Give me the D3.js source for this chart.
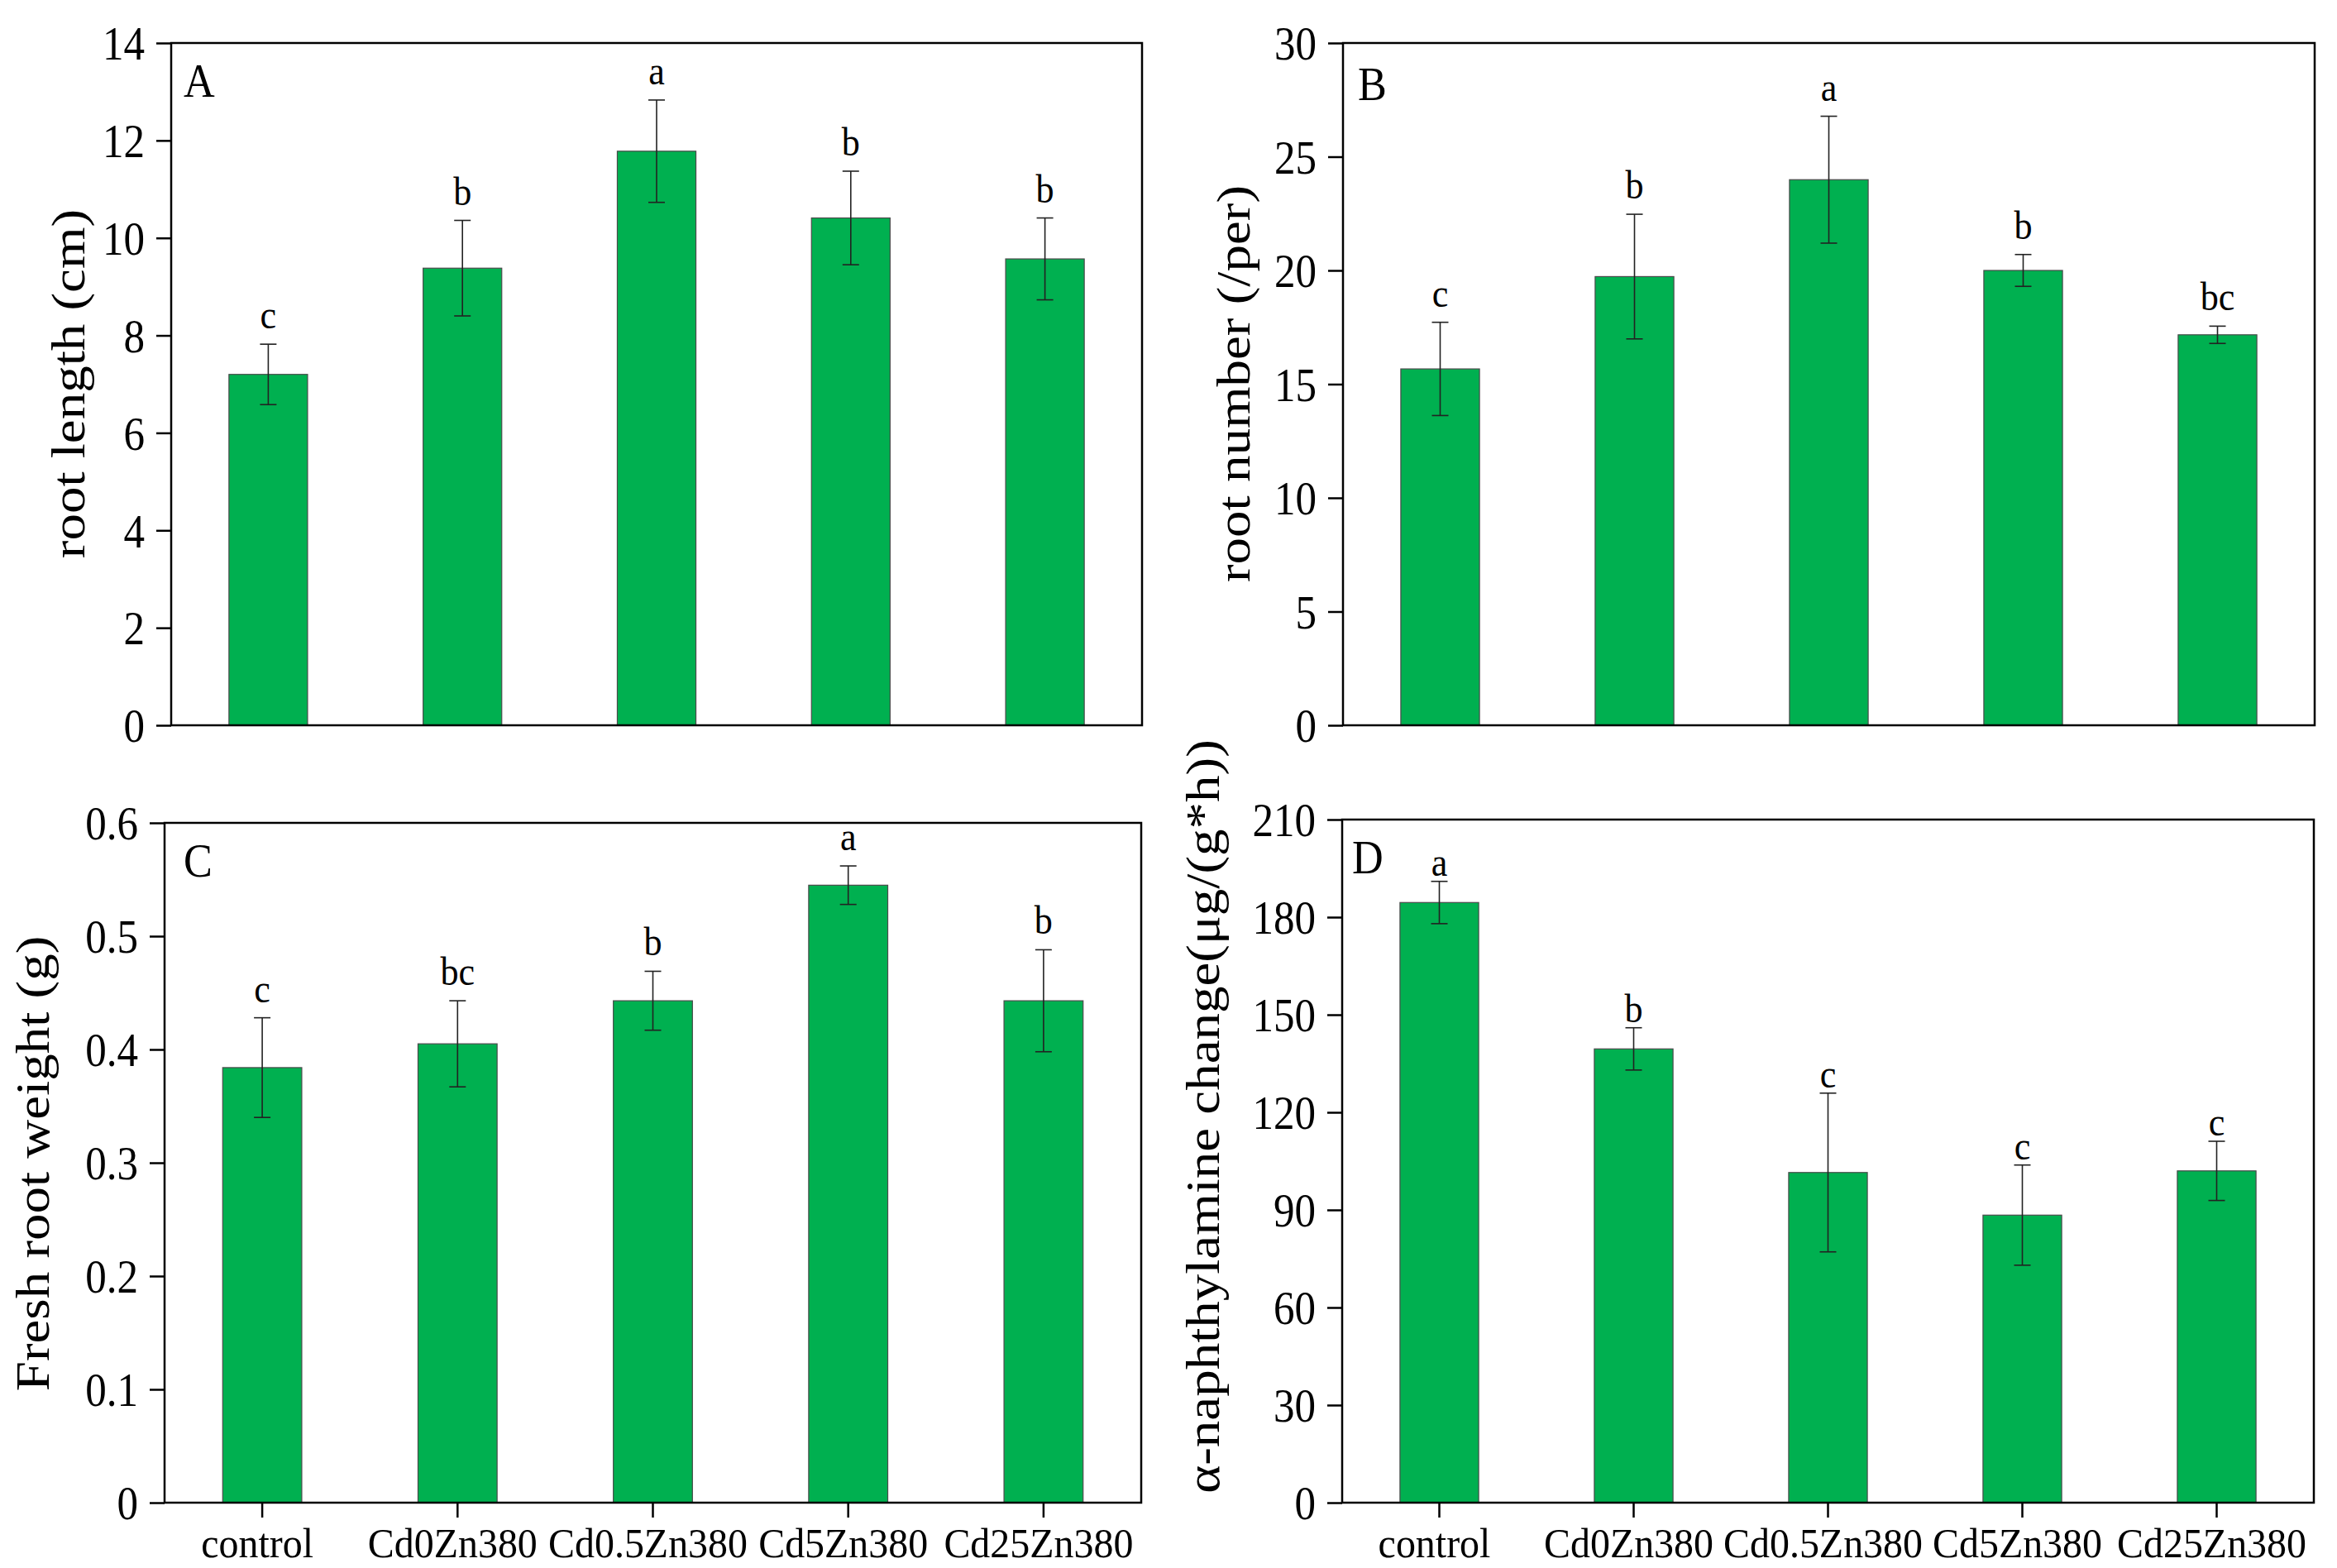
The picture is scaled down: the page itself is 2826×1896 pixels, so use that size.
<!DOCTYPE html>
<html>
<head>
<meta charset="utf-8">
<script src="https://cdn.jsdelivr.net/npm/d3@7"></script>
<style>
  body { margin: 0; background: #fff; }
  text { font-family: "Liberation Serif", "Times New Roman", serif; fill: #000; }
</style>
</head>
<body>
<svg></svg>
<script>
const size = {w: 2826, h: 1896};
const barColor = '#00b050';

// treatments (x axis)
const categories = ['control', 'Cd0Zn380', 'Cd0.5Zn380', 'Cd5Zn380', 'Cd25Zn380'];

// A - root length
const rootLength = [7.2, 9.38, 11.78, 10.41, 9.57];
const rootLengthErr = [0.62, 0.98, 1.05, 0.96, 0.84];
const rootLengthSig = ['c', 'b', 'a', 'b', 'b'];
const rootLengthTicks = [0, 2, 4, 6, 8, 10, 12, 14];

// B - root number
const rootNumber = [15.67, 19.73, 23.99, 20.0, 17.17];
const rootNumberErr = [2.05, 2.74, 2.79, 0.7, 0.38];
const rootNumberSig = ['c', 'b', 'a', 'b', 'bc'];
const rootNumberTicks = [0, 5, 10, 15, 20, 25, 30];

// C - fresh root weight
const freshWeight = [0.384, 0.405, 0.443, 0.545, 0.443];
const freshWeightErr = [0.044, 0.038, 0.026, 0.017, 0.045];
const freshWeightSig = ['c', 'bc', 'b', 'a', 'b'];
const freshWeightTicks = [0, 0.1, 0.2, 0.3, 0.4, 0.5, 0.6];

// D - alpha-naphthylamine
const naphthylamine = [184.5, 139.5, 101.5, 88.4, 102.0];
const naphthylamineErr = [6.5, 6.5, 24.4, 15.4, 9.1];
const naphthylamineSig = ['a', 'b', 'c', 'c', 'c'];
const naphthylamineTicks = [0, 30, 60, 90, 120, 150, 180, 210];

const svg = d3.select('svg')
    .attr('width', size.w)
    .attr('height', size.h);

const panels = [
    {letter: 'A', title: 'root length (cm)', values: rootLength, err: rootLengthErr, sig: rootLengthSig,
     ticks: rootLengthTicks, box: {l: 207, r: 1381, t: 52, b: 877}, titleX: 102, titleY: 464, letterPos: [222, 117], sigGap: 19, xLabels: false},
    {letter: 'B', title: 'root number (/per)', values: rootNumber, err: rootNumberErr, sig: rootNumberSig,
     ticks: rootNumberTicks, box: {l: 1624, r: 2799, t: 52, b: 877}, titleX: 1511, titleY: 464, letterPos: [1642, 121], sigGap: 19, xLabels: false},
    {letter: 'C', title: 'Fresh root weight (g)', values: freshWeight, err: freshWeightErr, sig: freshWeightSig,
     ticks: freshWeightTicks, box: {l: 199, r: 1380, t: 995, b: 1817}, titleX: 59, titleY: 1407, letterPos: [222, 1060], sigGap: 19, xLabels: true},
    {letter: 'D', title: 'α-naphthylamine change(μg/(g*h))', values: naphthylamine, err: naphthylamineErr, sig: naphthylamineSig,
     ticks: naphthylamineTicks, box: {l: 1623, r: 2798, t: 991, b: 1817}, titleX: 1474, titleY: 1350, letterPos: [1635, 1056], sigGap: 7, xLabels: true}
];

panels.forEach(drawPanel);

function drawPanel(p){
    let box = p.box;
    let g = svg.append('g');

    let scaleX = d3.scaleBand()
        .domain(categories)
        .range([box.l, box.r])
        .paddingInner(0.595)
        .paddingOuter(0.2975);

    let scaleY = d3.scaleLinear()
        .domain([0, d3.max(p.ticks)])
        .range([box.b, box.t]);

    let rows = categories.map((c, i) => ({cat: c, v: p.values[i], e: p.err[i], s: p.sig[i]}));

    //bars
    g.selectAll('.bar')
        .data(rows)
        .join('rect')
        .classed('bar', true)
        .attr('x', d => scaleX(d.cat))
        .attr('y', d => scaleY(d.v))
        .attr('width', scaleX.bandwidth())
        .attr('height', d => scaleY(0) - scaleY(d.v))
        .attr('fill', barColor)
        .attr('stroke', '#4a4a4a')
        .attr('stroke-width', 1.2);

    //error bars
    let cx = d => scaleX(d.cat) + scaleX.bandwidth() / 2;
    let capW = 10;
    let eb = g.selectAll('.err')
        .data(rows)
        .join('g')
        .classed('err', true)
        .attr('stroke', '#222')
        .attr('stroke-width', 1.6);
    eb.append('line')
        .attr('x1', cx).attr('x2', cx)
        .attr('y1', d => scaleY(d.v + d.e))
        .attr('y2', d => scaleY(d.v - d.e));
    eb.append('line')
        .attr('x1', d => cx(d) - capW).attr('x2', d => cx(d) + capW)
        .attr('y1', d => scaleY(d.v + d.e)).attr('y2', d => scaleY(d.v + d.e));
    eb.append('line')
        .attr('x1', d => cx(d) - capW).attr('x2', d => cx(d) + capW)
        .attr('y1', d => scaleY(d.v - d.e)).attr('y2', d => scaleY(d.v - d.e));

    //significance letters
    g.selectAll('.sig')
        .data(rows)
        .join('text')
        .classed('sig', true)
        .attr('transform', d => `translate(${cx(d)}, ${scaleY(d.v + d.e) - p.sigGap}) scale(0.92,1)`)
        .attr('text-anchor', 'middle')
        .style('font-size', '48px')
        .text(d => d.s);

    //y axis
    let axisY = d3.axisLeft(scaleY)
        .tickValues(p.ticks)
        .tickFormat(d3.format('~g'))
        .tickSize(18)
        .tickSizeOuter(0);
    let axisG = g.append('g')
        .attr('transform', `translate(${box.l}, 0)`)
        .call(axisY);
    axisG.select('.domain').remove();
    axisG.selectAll('line').attr('stroke', '#000').attr('stroke-width', 2.5);
    axisG.selectAll('text')
        .attr('x', 0)
        .attr('dy', '0.34em')
        .attr('transform', 'translate(-32, 0) scale(0.88, 1)')
        .style('font-size', '58px')
        .style('font-family', '"Liberation Serif", serif')
        .attr('fill', '#000');

    //x axis (bottom panels only)
    if(p.xLabels){
        let axisX = d3.axisBottom(scaleX)
            .tickSize(18)
            .tickSizeOuter(0);
        let axisXG = g.append('g')
            .attr('transform', `translate(0, ${box.b})`)
            .call(axisX);
        axisXG.select('.domain').remove();
        axisXG.selectAll('line').attr('stroke', '#000').attr('stroke-width', 2.5);
        axisXG.selectAll('text')
            .attr('y', 0)
            .attr('dy', 0)
            .attr('transform', 'translate(-6, 66) scale(0.94, 1)')
            .style('font-size', '51px')
            .style('font-family', '"Liberation Serif", serif')
            .attr('fill', '#000');
    }

    //frame
    g.append('rect')
        .attr('x', box.l)
        .attr('y', box.t)
        .attr('width', box.r - box.l)
        .attr('height', box.b - box.t)
        .attr('fill', 'none')
        .attr('stroke', '#000')
        .attr('stroke-width', 2.5);

    //panel letter
    g.append('text')
        .attr('transform', `translate(${p.letterPos[0]}, ${p.letterPos[1]}) scale(0.9, 1)`)
        .style('font-size', '58px')
        .text(p.letter);

    //y title
    g.append('text')
        .attr('transform', `translate(${p.titleX}, ${p.titleY}) scale(0.88, 1) rotate(-90)`)
        .attr('text-anchor', 'middle')
        .style('font-size', '65px')
        .text(p.title);
}
</script>
</body>
</html>
